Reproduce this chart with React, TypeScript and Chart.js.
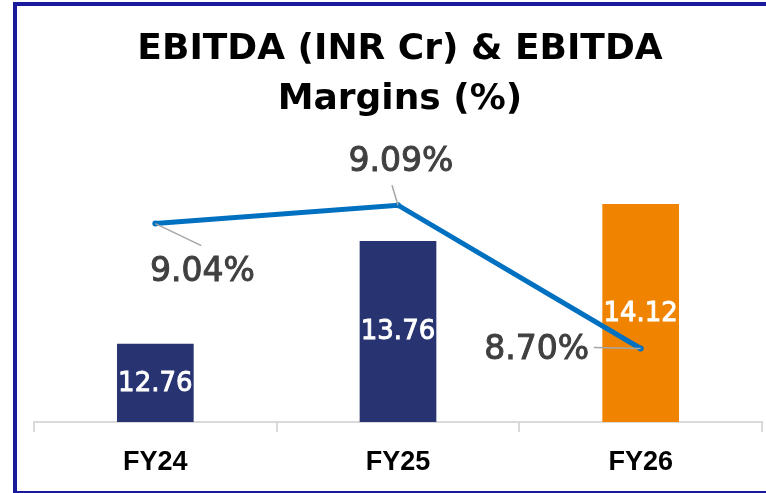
import React, { useEffect, useRef } from "react";
import { Chart, registerables } from "chart.js";

Chart.register(...registerables);

const categories = ["FY24", "FY25", "FY26"];
const ebitda = [12.76, 13.76, 14.12];
const margins = [9.04, 9.09, 8.7];
const barLabels = ["12.76", "13.76", "14.12"];
const marginLabels = ["9.04%", "9.09%", "8.70%"];
const titleLines = ["EBITDA (INR Cr) & EBITDA", "Margins (%)"];

const NAVY = "#283371";
const ORANGE = "#f08400";
const BLUE = "#0070c0";
const barColors = [NAVY, NAVY, ORANGE];

// label placement offsets (px) relative to each line point: [labelDx, labelDy, leaderDx, leaderDy]
const marginLabelOffsets = [
  [47, 48, 46, 22],
  [3, -44, -6, -20],
  [-104, 1, -47, -1],
];

const labelPlugin = {
  id: "customLabels",
  afterDraw(chart: any) {
    const ctx = chart.ctx;
    const xScale = chart.scales.x;
    const yScale = chart.scales.y;
    const y1Scale = chart.scales.y1;
    const base = yScale.getPixelForValue(yScale.min);
    ctx.save();
    // bar labels
    ctx.fillStyle = "#ffffff";
    ctx.strokeStyle = "#ffffff";
    ctx.lineWidth = 0.9;
    ctx.font = "26px 'DejaVu Sans'";
    ctx.textAlign = "center";
    ctx.textBaseline = "middle";
    ebitda.forEach((v, i) => {
      const x = xScale.getPixelForValue(i);
      const top = yScale.getPixelForValue(v);
      const y = (top + base) / 2 + 1;
      ctx.fillText(barLabels[i], x, y);
      ctx.strokeText(barLabels[i], x, y);
    });
    // margin labels with leader lines
    margins.forEach((v, i) => {
      const px = xScale.getPixelForValue(i);
      const py = y1Scale.getPixelForValue(v);
      const [lx, ly, dx, dy] = marginLabelOffsets[i];
      ctx.strokeStyle = "#a6a6a6";
      ctx.lineWidth = 1.5;
      ctx.beginPath();
      ctx.moveTo(px, py);
      ctx.lineTo(px + dx, py + dy);
      ctx.stroke();
      ctx.fillStyle = "#404040";
      ctx.strokeStyle = "#404040";
      ctx.lineWidth = 1;
      ctx.font = "33px 'DejaVu Sans'";
      ctx.textAlign = "center";
      ctx.textBaseline = "middle";
      ctx.fillText(marginLabels[i], px + lx, py + ly + 1);
      ctx.strokeText(marginLabels[i], px + lx, py + ly + 1);
    });
    ctx.restore();
  },
};

export default function App() {
  const ref = useRef<HTMLCanvasElement | null>(null);
  useEffect(() => {
    if (!ref.current) return;
    const chart = new Chart(ref.current, {
      type: "bar",
      data: {
        labels: categories,
        datasets: [
          {
            type: "bar",
            label: "EBITDA (INR Cr)",
            data: ebitda,
            backgroundColor: barColors,
            yAxisID: "y",
            categoryPercentage: 1,
            barPercentage: 0.316,
            order: 2,
          },
          {
            type: "line",
            label: "EBITDA Margins (%)",
            data: margins,
            borderColor: BLUE,
            backgroundColor: BLUE,
            borderWidth: 5,
            pointRadius: 3,
            pointBackgroundColor: BLUE,
            pointBorderWidth: 0,
            yAxisID: "y1",
            tension: 0,
            order: 1,
          },
        ],
      },
      options: {
        responsive: false,
        animation: false,
        layout: { padding: { left: 34, right: 0, top: 0, bottom: 0 } },
        plugins: {
          legend: { display: false },
          tooltip: { enabled: false },
          title: {
            display: true,
            text: titleLines,
            color: "#000000",
            font: { family: "'DejaVu Sans'", size: 36, weight: "bold", lineHeight: 1.4 },
            padding: { top: 24, bottom: 40 },
          },
        },
        scales: {
          x: {
            grid: {
              offset: true,
              drawOnChartArea: false,
              drawTicks: true,
              tickLength: 10,
              color: "#d9d9d9",
              lineWidth: 2,
            },
            border: { color: "#d9d9d9", width: 2 },
            ticks: {
              color: "#000000",
              font: { family: "'Liberation Sans'", size: 27, weight: "bold" },
              padding: 14,
            },
            afterFit(scale: any) {
              scale.height = 71;
            },
          },
          y: {
            display: false,
            min: 12,
            max: 14.5,
          },
          y1: {
            display: false,
            min: 8.5,
            max: 9.2,
          },
        },
      },
      plugins: [labelPlugin],
    });
    return () => chart.destroy();
  }, []);

  return (
    <div style={{ position: "fixed", left: 0, top: 0, width: 766, height: 493, background: "#fff", overflow: "hidden" }}>
      <canvas ref={ref} width={766} height={493} style={{ position: "absolute", left: 0, top: 0 }} />
      <div
        style={{
          position: "absolute",
          left: 13,
          top: 2,
          width: 800,
          height: 485,
          borderTop: "4px solid #1a1a9c",
          borderLeft: "4px solid #1a1a9c",
          borderBottom: "2px solid #1a1a9c",
          pointerEvents: "none",
        }}
      />
    </div>
  );
}
